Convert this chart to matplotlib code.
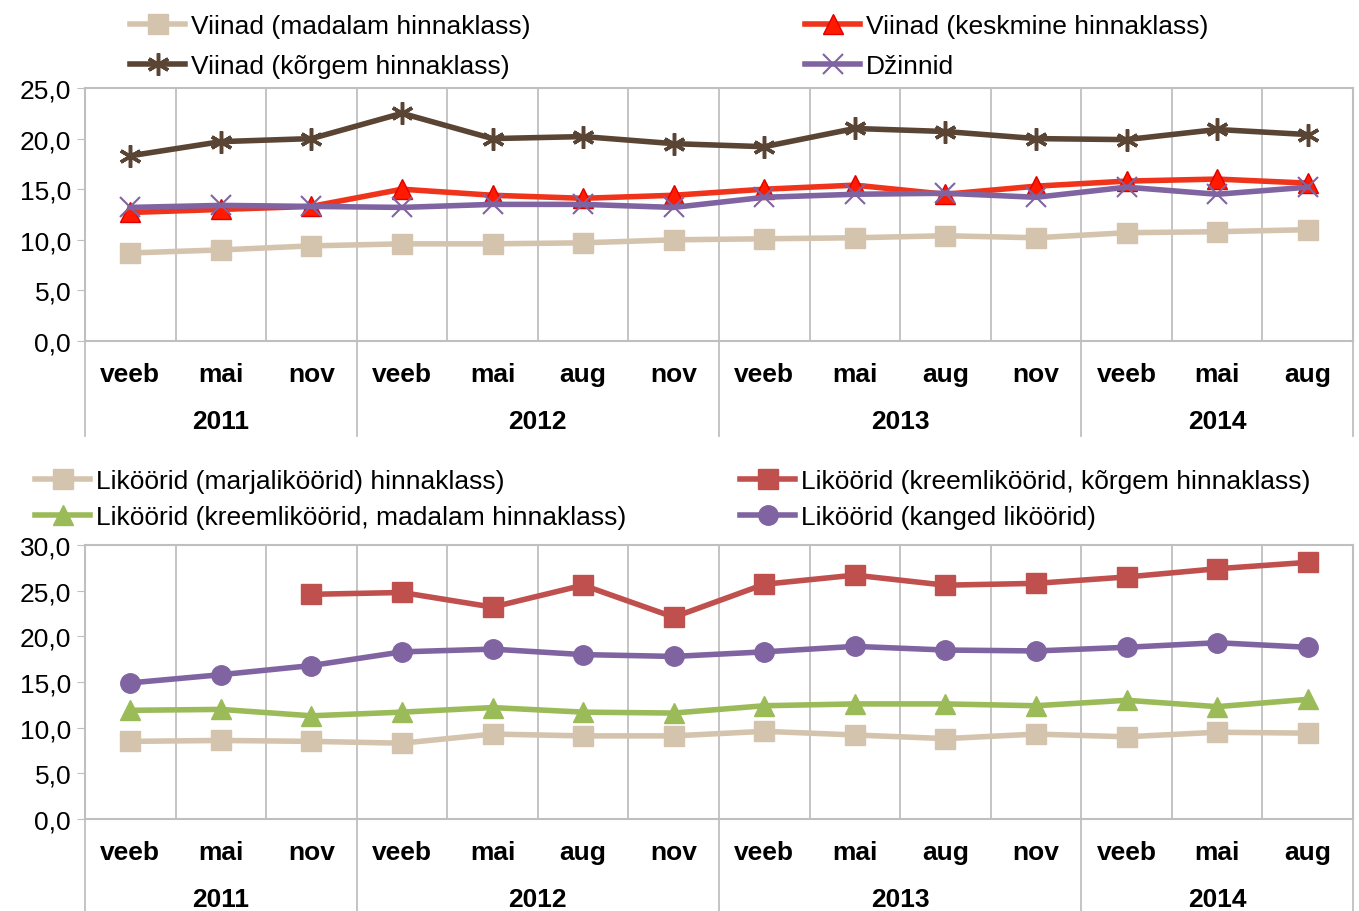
import numpy as np
import matplotlib.pyplot as plt
from matplotlib.lines import Line2D
from matplotlib.transforms import blended_transform_factory

plt.rcParams['font.family'] = ['Liberation Sans Narrow', 'Liberation Sans', 'DejaVu Sans']

months = ["veeb", "mai", "nov", "veeb", "mai", "aug", "nov",
          "veeb", "mai", "aug", "nov", "veeb", "mai", "aug"]
years = ["2011", "2012", "2013", "2014"]
year_sizes = [3, 4, 4, 3]

# top chart: viinad / dzinnid
viin_madal = [8.7, 9.0, 9.4, 9.6, 9.6, 9.7, 10.0, 10.1, 10.2, 10.4, 10.2, 10.7, 10.8, 11.0]
viin_kesk = [12.7, 13.0, 13.3, 15.0, 14.4, 14.1, 14.4, 15.0, 15.4, 14.5, 15.3, 15.8, 16.0, 15.6]
viin_korg = [18.3, 19.7, 20.0, 22.5, 20.0, 20.2, 19.5, 19.2, 21.0, 20.7, 20.0, 19.9, 20.9, 20.4]
dzinnid = [13.2, 13.4, 13.3, 13.2, 13.5, 13.5, 13.2, 14.2, 14.5, 14.6, 14.2, 15.2, 14.5, 15.2]

# bottom chart: liköörid
lik_marja = [8.5, 8.6, 8.5, 8.3, 9.3, 9.1, 9.1, 9.6, 9.2, 8.8, 9.3, 9.0, 9.5, 9.4]
lik_kreem_korg = [np.nan, np.nan, 24.6, 24.8, 23.2, 25.6, 22.1, 25.7, 26.7, 25.6, 25.8, 26.5, 27.4, 28.1]
lik_kreem_madal = [11.9, 12.0, 11.3, 11.7, 12.2, 11.7, 11.6, 12.4, 12.6, 12.6, 12.4, 13.0, 12.3, 13.1]
lik_kanged = [14.9, 15.8, 16.8, 18.3, 18.6, 18.0, 17.8, 18.3, 18.9, 18.5, 18.4, 18.8, 19.3, 18.8]

W, H = 1359, 912
fig = plt.figure(figsize=(W / 100, H / 100), dpi=100)
grid_c = "#BFBFBF"
fs = 19


def px_axes(x0, y0, x1, y1):
    return fig.add_axes([x0 / W, 1 - y1 / H, (x1 - x0) / W, (y1 - y0) / H])


def setup(ax, ymax, step, y_bottom_px, y_top_px):
    n = len(months)
    ax.set_xlim(-0.5, n - 0.5)
    ax.set_ylim(0, ymax)
    ticks = np.arange(0, ymax + 0.01, step)
    ax.set_yticks(ticks)
    ax.set_yticklabels([f"{v:.1f}".replace(".", ",") for v in ticks], fontsize=fs)
    ax.set_xticks([])
    for b in np.arange(0.5, n - 1, 1):
        ax.axvline(b, color=grid_c, lw=1.3, zorder=0)
    for s in ax.spines.values():
        s.set_color(grid_c)
        s.set_linewidth(1.5)
    ax.tick_params(axis="y", length=6, color=grid_c, pad=4)
    tr = blended_transform_factory(ax.transData, ax.transAxes)
    ah = y_bottom_px - y_top_px
    for i, m in enumerate(months):
        ax.text(i, -33 / ah, m, transform=tr, ha="center", va="center",
                fontsize=fs, fontweight="bold")
    start = 0
    bounds = [-0.5]
    for yr, k in zip(years, year_sizes):
        ax.text(start + (k - 1) / 2, -80 / ah, yr, transform=tr, ha="center",
                va="center", fontsize=fs, fontweight="bold")
        start += k
        bounds.append(start - 0.5)
    for b in bounds:
        ax.add_line(Line2D([b, b], [0, -95 / ah], transform=tr, color=grid_c,
                           lw=1.3, clip_on=False))


x = np.arange(len(months))

# ---- top chart
ax1 = px_axes(85, 89, 1353, 342)
setup(ax1, 25, 5, 342, 89)
s1 = ax1.plot(x, viin_madal, color="#D5C4AD", lw=4, marker="s", ms=14,
              label="Viinad (madalam hinnaklass)")[0]
s2 = ax1.plot(x, viin_kesk, color="#F0341C", lw=4, marker="^", ms=14,
              mfc="#FF1A00", mec="#E00000", label="Viinad (keskmine hinnaklass)")[0]
s3 = ax1.plot(x, viin_korg, color="#5A4535", lw=4, marker=(6, 2, 0), ms=16,
              mew=2.5, label="Viinad (kõrgem hinnaklass)")[0]
s4 = ax1.plot(x, dzinnid, color="#8064A2", lw=4, marker="x", ms=14, mew=1.5,
              label="Džinnid")[0]

leg_kw = dict(frameon=False, fontsize=fs, handlelength=2.1, handletextpad=0.2,
              labelspacing=0.6, borderpad=0, borderaxespad=0, loc="upper left")
fig.legend(handles=[s1, s3], bbox_to_anchor=(130 / W, 1 - 15 / H), **leg_kw)
fig.legend(handles=[s2, s4], bbox_to_anchor=(805 / W, 1 - 15 / H), **leg_kw)

# ---- bottom chart
ax2 = px_axes(85, 546, 1353, 820)
setup(ax2, 30, 5, 820, 546)
b1 = ax2.plot(x, lik_marja, color="#D5C4AD", lw=4, marker="s", ms=14,
              label="Liköörid (marjaliköörid) hinnaklass)")[0]
b2 = ax2.plot(x, lik_kreem_korg, color="#C0504D", lw=4, marker="s", ms=14,
              label="Liköörid (kreemliköörid, kõrgem hinnaklass)")[0]
b3 = ax2.plot(x, lik_kreem_madal, color="#9BBB59", lw=4, marker="^", ms=14,
              label="Liköörid (kreemliköörid, madalam hinnaklass)")[0]
b4 = ax2.plot(x, lik_kanged, color="#8064A2", lw=4, marker="o", ms=14,
              label="Liköörid (kanged liköörid)")[0]

leg_kw2 = dict(leg_kw, labelspacing=0.45)
fig.legend(handles=[b1, b3], bbox_to_anchor=(35 / W, 1 - 470 / H), **leg_kw2)
fig.legend(handles=[b2, b4], bbox_to_anchor=(740 / W, 1 - 470 / H), **leg_kw2)

fig.savefig("out.png", dpi=100)
